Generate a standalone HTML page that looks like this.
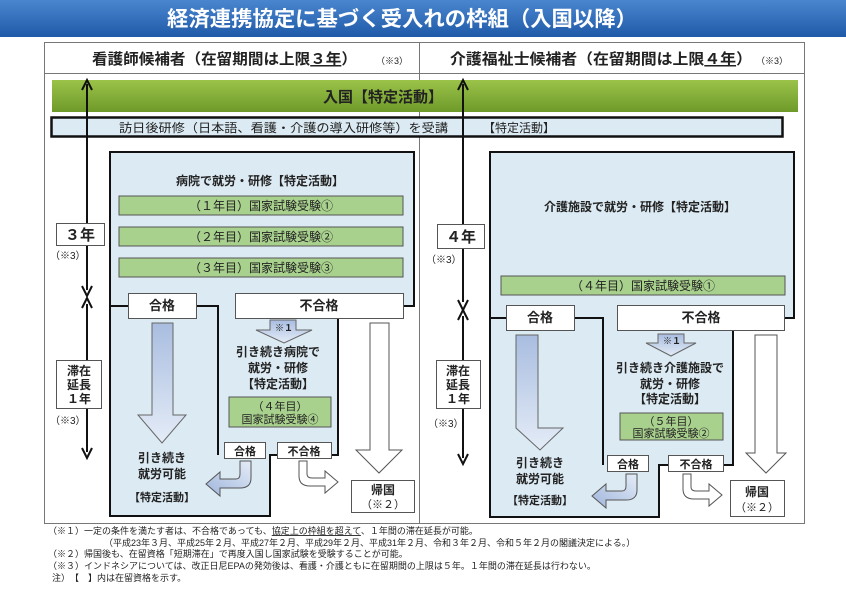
<!DOCTYPE html>
<html><head><meta charset="utf-8"><style>
html,body{margin:0;padding:0;background:#fff}
svg{display:block}
text{font-family:"Liberation Sans","Noto Sans CJK JP",sans-serif;fill:#222}
.b{font-weight:bold}
</style></head><body>
<svg width="846" height="596" viewBox="0 0 846 596" xmlns="http://www.w3.org/2000/svg">
<defs>
<linearGradient id="tb" x1="0" y1="0" x2="0" y2="1"><stop offset="0" stop-color="#4a86cf"/><stop offset="1" stop-color="#1f5aa8"/></linearGradient>
<linearGradient id="gb" x1="0" y1="0" x2="0" y2="1"><stop offset="0" stop-color="#9bc34a"/><stop offset="1" stop-color="#6e9a2a"/></linearGradient>
<linearGradient id="ba" x1="0" y1="0" x2="0" y2="1"><stop offset="0" stop-color="#a9bde0"/><stop offset="1" stop-color="#e4ecf7"/></linearGradient>
<linearGradient id="ba2" x1="1" y1="0" x2="0" y2="1"><stop offset="0" stop-color="#e4ecf7"/><stop offset="1" stop-color="#9fb5dc"/></linearGradient>
</defs>
<rect x="0" y="0" width="846" height="37" fill="url(#tb)"/>
<text x="167" y="26" font-size="21" class="b" textLength="470" lengthAdjust="spacingAndGlyphs" style="fill:#fff">経済連携協定に基づく受入れの枠組（入国以降）</text>

<rect x="44.5" y="42.5" width="760" height="481" fill="#fff" stroke="#777" stroke-width="1"/>
<line x1="44" y1="73.5" x2="804" y2="73.5" stroke="#777"/>
<line x1="419.5" y1="42" x2="419.5" y2="524" stroke="#777"/>
<text x="92" y="64" font-size="15" class="b" textLength="265" lengthAdjust="spacingAndGlyphs">看護師候補者（在留期間は上限<tspan text-decoration="underline">３年</tspan>）</text>
<text x="376" y="64" font-size="9">（※3）</text>
<text x="450" y="64" font-size="15" class="b" textLength="302" lengthAdjust="spacingAndGlyphs">介護福祉士候補者（在留期間は上限<tspan text-decoration="underline">４年</tspan>）</text>
<text x="756" y="64" font-size="9">（※3）</text>

<rect x="52" y="80" width="746" height="32" fill="url(#gb)"/>
<text x="383" y="102" font-size="15" class="b" text-anchor="middle">入国【特定活動】</text>
<rect x="51.5" y="117.5" width="731" height="19" fill="#dbeaf3" stroke="#111" stroke-width="2.5"/>
<text x="119" y="132" font-size="12" textLength="329" lengthAdjust="spacingAndGlyphs">訪日後研修（日本語、看護・介護の導入研修等）を受講</text>
<text x="483" y="132" font-size="12">【特定活動】</text>

<!-- LEFT -->
<path d="M110,152 H414 V306 H338 V455 H270 V516 H110 Z" fill="#dbeaf3" stroke="#111" stroke-width="2"/>
<path d="M110,306 H218 V455" fill="none" stroke="#111" stroke-width="2"/>
<text x="260" y="185" font-size="12" class="b" text-anchor="middle">病院で就労・研修【特定活動】</text>
<g font-size="12">
<rect x="119" y="196" width="284" height="19" fill="#a9d18e" stroke="#555"/>
<text x="261" y="210" text-anchor="middle">（１年目）国家試験受験①</text>
<rect x="119" y="227" width="284" height="19" fill="#a9d18e" stroke="#555"/>
<text x="261" y="241" text-anchor="middle">（２年目）国家試験受験②</text>
<rect x="119" y="258" width="284" height="19" fill="#a9d18e" stroke="#555"/>
<text x="261" y="272" text-anchor="middle">（３年目）国家試験受験③</text>
</g>
<rect x="128.5" y="293.5" width="68" height="25" fill="#fff" stroke="#555"/>
<text x="162" y="310" font-size="13" class="b" text-anchor="middle">合格</text>
<rect x="235.5" y="293.5" width="168" height="25" fill="#fff" stroke="#555"/>
<text x="319" y="310" font-size="13" class="b" text-anchor="middle">不合格</text>
<path d="M152,323 H173 V415 H186 L162,443 L138,415 H152 Z" fill="url(#ba)" stroke="#666"/>
<text x="162" y="462" font-size="12" class="b" text-anchor="middle">引き続き</text>
<text x="162" y="478" font-size="12" class="b" text-anchor="middle">就労可能</text>
<text x="162" y="501" font-size="11" class="b" text-anchor="middle">【特定活動】</text>
<path d="M270,320 H296 V330 H312 L284,343 L256,330 H270 Z" fill="url(#ba)" stroke="#666"/>
<text x="284" y="331" font-size="9" class="b" text-anchor="middle">※１</text>
<text x="278" y="356" font-size="12" class="b" text-anchor="middle">引き続き病院で</text>
<text x="278" y="372" font-size="12" class="b" text-anchor="middle">就労・研修</text>
<text x="278" y="388" font-size="12" class="b" text-anchor="middle">【特定活動】</text>
<rect x="229" y="397" width="102" height="30" fill="#a9d18e" stroke="#555"/>
<text x="280" y="410" font-size="11" text-anchor="middle">（４年目）</text>
<text x="280" y="423" font-size="11" text-anchor="middle">国家試験受験④</text>
<rect x="224.5" y="442.5" width="41" height="16" fill="#fff" stroke="#555"/>
<text x="245" y="455" font-size="11" class="b" text-anchor="middle">合格</text>
<rect x="277.5" y="442.5" width="54" height="16" fill="#fff" stroke="#555"/>
<text x="304" y="455" font-size="11" class="b" text-anchor="middle">不合格</text>
<path d="M240,461 H251 V478 Q251,488 240,488 H220 V496 L206,484 L220,472 V479 H236 Q240,479 240,474 Z" fill="url(#ba2)" stroke="#555"/>
<path d="M299,461 H307 V474 Q307,478 312,478 H325 V471 L338,482 L325,493 V486 H310 Q299,486 299,476 Z" fill="#fff" stroke="#555"/>
<path d="M370,323 H389 V450 H402 L379,473 L356,450 H370 Z" fill="#fff" stroke="#555"/>
<rect x="351.5" y="480.5" width="63" height="32" fill="#fff" stroke="#555"/>
<text x="383" y="494" font-size="12" class="b" text-anchor="middle">帰国</text>
<text x="383" y="508" font-size="11" text-anchor="middle">（※２）</text>

<line x1="87" y1="84" x2="87" y2="290" stroke="#111" stroke-width="2"/>
<path d="M82,90 L87,80 L92,90" fill="none" stroke="#111" stroke-width="2"/>
<path d="M82,286 L87,296 L92,286" fill="none" stroke="#111" stroke-width="2"/>
<line x1="87" y1="304" x2="87" y2="452" stroke="#111" stroke-width="2"/>
<path d="M82,308 L87,298 L92,308" fill="none" stroke="#111" stroke-width="2"/>
<path d="M82,448 L87,458 L92,448" fill="none" stroke="#111" stroke-width="2"/>
<rect x="56.5" y="223.5" width="48" height="22" fill="#fff" stroke="#555"/>
<text x="80" y="240" font-size="15" class="b" text-anchor="middle">３年</text>
<text x="50" y="259" font-size="10">（※3）</text>
<rect x="56.5" y="360.5" width="45" height="48" fill="#fff" stroke="#555"/>
<text x="79" y="375" font-size="12" class="b" text-anchor="middle">滞在</text>
<text x="79" y="389" font-size="12" class="b" text-anchor="middle">延長</text>
<text x="79" y="403" font-size="12" class="b" text-anchor="middle">１年</text>
<text x="50" y="424" font-size="10">（※3）</text>

<!-- RIGHT -->
<path d="M490,152 H794 V318 H733 V465 H659 V517 H490 Z" fill="#dbeaf3" stroke="#111" stroke-width="2"/>
<path d="M490,318 H603 V465" fill="none" stroke="#111" stroke-width="2"/>
<text x="640" y="211" font-size="12" class="b" text-anchor="middle">介護施設で就労・研修【特定活動】</text>
<rect x="501" y="276" width="284" height="19" fill="#a9d18e" stroke="#555"/>
<text x="643" y="290" font-size="12" text-anchor="middle">（４年目）国家試験受験①</text>
<rect x="506.5" y="305.5" width="68" height="25" fill="#fff" stroke="#555"/>
<text x="540" y="322" font-size="13" class="b" text-anchor="middle">合格</text>
<rect x="617.5" y="305.5" width="167" height="25" fill="#fff" stroke="#555"/>
<text x="701" y="322" font-size="13" class="b" text-anchor="middle">不合格</text>
<path d="M516,335 H538 V428 H563 L540,450 L516,428 Z" fill="url(#ba)" stroke="#666"/>
<text x="540" y="467" font-size="12" class="b" text-anchor="middle">引き続き</text>
<text x="540" y="483" font-size="12" class="b" text-anchor="middle">就労可能</text>
<text x="540" y="504" font-size="11" class="b" text-anchor="middle">【特定活動】</text>
<path d="M658,334 H684 V343 H696 L671,356 L646,343 H658 Z" fill="url(#ba)" stroke="#666"/>
<text x="672" y="344" font-size="9" class="b" text-anchor="middle">※１</text>
<text x="670" y="372" font-size="12" class="b" text-anchor="middle">引き続き介護施設で</text>
<text x="670" y="388" font-size="12" class="b" text-anchor="middle">就労・研修</text>
<text x="670" y="403" font-size="12" class="b" text-anchor="middle">【特定活動】</text>
<rect x="620" y="413" width="103" height="27" fill="#a9d18e" stroke="#555"/>
<text x="671" y="425" font-size="11" text-anchor="middle">（５年目）</text>
<text x="671" y="437" font-size="11" text-anchor="middle">国家試験受験②</text>
<rect x="607.5" y="455.5" width="41" height="16" fill="#fff" stroke="#555"/>
<text x="628" y="468" font-size="11" class="b" text-anchor="middle">合格</text>
<rect x="668.5" y="455.5" width="55" height="16" fill="#fff" stroke="#555"/>
<text x="696" y="468" font-size="11" class="b" text-anchor="middle">不合格</text>
<path d="M626,474 H637 V490 Q637,500 626,500 H606 V508 L592,496 L606,484 V491 H622 Q626,491 626,486 Z" fill="url(#ba2)" stroke="#555"/>
<path d="M683,474 H691 V487 Q691,491 696,491 H709 V484 L722,495 L709,506 V499 H694 Q683,499 683,489 Z" fill="#fff" stroke="#555"/>
<path d="M755,335 H777 V453 H786 L766,473 L746,453 H755 Z" fill="#fff" stroke="#555"/>
<rect x="730.5" y="480.5" width="54" height="36" fill="#fff" stroke="#555"/>
<text x="757" y="496" font-size="12" class="b" text-anchor="middle">帰国</text>
<text x="757" y="511" font-size="11" text-anchor="middle">（※２）</text>

<line x1="463" y1="84" x2="463" y2="302" stroke="#111" stroke-width="2"/>
<path d="M458,90 L463,80 L468,90" fill="none" stroke="#111" stroke-width="2"/>
<path d="M458,300 L463,310 L468,300" fill="none" stroke="#111" stroke-width="2"/>
<line x1="463" y1="316" x2="463" y2="458" stroke="#111" stroke-width="2"/>
<path d="M458,320 L463,310 L468,320" fill="none" stroke="#111" stroke-width="2"/>
<path d="M458,454 L463,464 L468,454" fill="none" stroke="#111" stroke-width="2"/>
<rect x="437.5" y="224.5" width="47" height="24" fill="#fff" stroke="#555"/>
<text x="461" y="242" font-size="15" class="b" text-anchor="middle">４年</text>
<text x="426" y="263" font-size="10">（※3）</text>
<rect x="436.5" y="360.5" width="44" height="48" fill="#fff" stroke="#555"/>
<text x="458" y="375" font-size="12" class="b" text-anchor="middle">滞在</text>
<text x="458" y="389" font-size="12" class="b" text-anchor="middle">延長</text>
<text x="458" y="403" font-size="12" class="b" text-anchor="middle">１年</text>
<text x="428" y="427" font-size="10">（※3）</text>

<!-- footnotes -->
<g font-size="9">
<text x="48" y="534">（※１）一定の条件を満たす者は、不合格であっても、<tspan text-decoration="underline">協定上の枠組を超えて</tspan>、１年間の滞在延長が可能。</text>
<text x="104" y="546">（平成23年３月、平成25年２月、平成27年２月、平成29年２月、平成31年２月、令和３年２月、令和５年２月の閣議決定による。）</text>
<text x="48" y="557">（※２）帰国後も、在留資格「短期滞在」で再度入国し国家試験を受験することが可能。</text>
<text x="48" y="569">（※３）インドネシアについては、改正日尼EPAの発効後は、看護・介護ともに在留期間の上限は５年。１年間の滞在延長は行わない。</text>
<text x="52" y="581">注）　【　】内は在留資格を示す。</text>
</g>
</svg>
</body></html>
